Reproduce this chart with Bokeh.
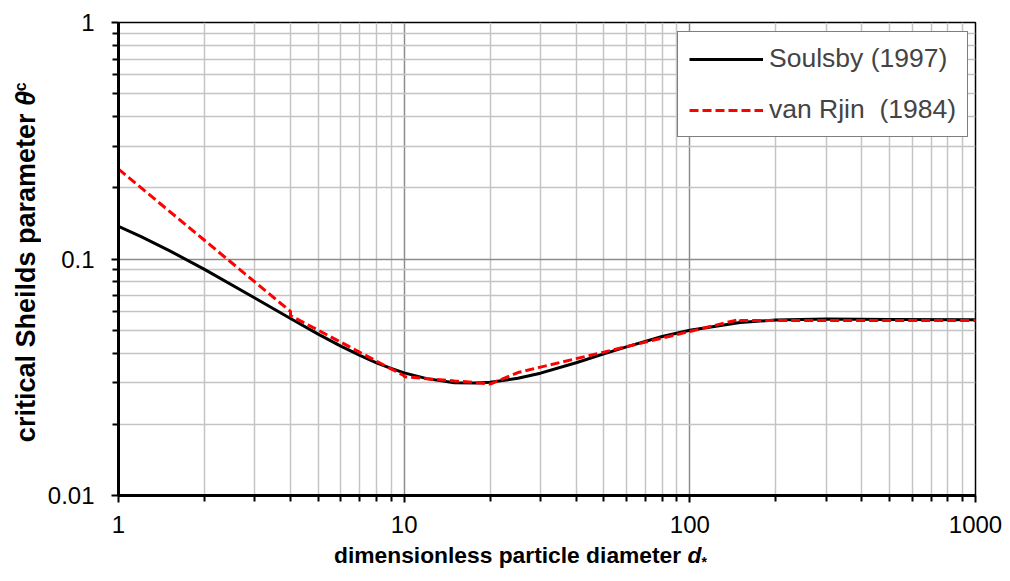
from bokeh.plotting import figure
from bokeh.models import (FixedTicker, CustomJSTickFormatter, Legend,
                          LegendItem, Range1d, Div, GridBox)
from bokeh.embed import file_html
from bokeh.resources import INLINE

# ---- data ----
soulsby_d = [1, 1.2, 1.5, 2, 3, 4, 5, 6, 7, 8, 9, 10, 12, 15, 18, 20, 25, 30,
             40, 50, 60, 80, 100, 150, 200, 300, 500, 1000]
soulsby_theta = [0.1375, 0.1243, 0.1088, 0.0904, 0.0684, 0.0560, 0.0481, 0.0428,
                 0.0391, 0.0364, 0.0345, 0.0330, 0.0312, 0.0300, 0.0299, 0.0301,
                 0.0313, 0.0329, 0.0364, 0.0397, 0.0425, 0.0470, 0.0500, 0.0539,
                 0.0552, 0.0557, 0.0555, 0.0553]

vanrijn_d = [1, 2, 3, 4, 4, 5, 6, 7, 8, 9, 10, 10, 12, 15, 18, 20, 25, 30, 40,
             50, 60, 80, 100, 120, 150, 150, 200, 500, 1000]
vanrijn_theta = [0.24, 0.12, 0.08, 0.06, 0.0576, 0.0500, 0.0445, 0.0403, 0.0370,
                 0.0343, 0.0321, 0.0318, 0.0312, 0.0305, 0.0300, 0.0296, 0.0331,
                 0.0349, 0.0379, 0.0404, 0.0426, 0.0463, 0.0494, 0.0521, 0.0556,
                 0.055, 0.055, 0.055, 0.055]

series_labels = ["Soulsby (1997)", "van Rjin  (1984)"]

x_major = [1, 10, 100, 1000]
x_minor = [m * 10 ** k for k in range(0, 3) for m in range(2, 10)]
y_major = [0.01, 0.1, 1]
y_minor = [round(m * 10.0 ** k, 4) for k in (-2, -1) for m in range(2, 10)]

FONT = "Liberation Sans"

p = figure(width=1010, height=581, x_axis_type="log", y_axis_type="log",
           x_range=Range1d(1, 1000), y_range=Range1d(0.01, 1),
           output_backend="svg", toolbar_location=None,
           min_border_left=118, min_border_right=35,
           min_border_top=22, min_border_bottom=86)
p.background_fill_color = "white"
p.border_fill_color = "white"
p.outline_line_color = "black"
p.outline_line_width = 1.5

xt = FixedTicker(ticks=x_major, minor_ticks=x_minor)
yt = FixedTicker(ticks=y_major, minor_ticks=y_minor)
p.xaxis.ticker = xt
p.yaxis.ticker = yt
p.xgrid.ticker = xt
p.ygrid.ticker = yt
fmt = CustomJSTickFormatter(code="return tick.toString();")
p.xaxis.formatter = fmt
p.yaxis.formatter = fmt

for g in (p.xgrid, p.ygrid):
    g.grid_line_color = "#8c8c8c"
    g.grid_line_width = 1.5
    g.minor_grid_line_color = "#c4c4c4"
    g.minor_grid_line_width = 1.5

for ax in (p.xaxis, p.yaxis):
    ax.axis_line_color = "black"
    ax.axis_line_width = 3
    ax.major_tick_line_color = "black"
    ax.minor_tick_line_color = "black"
    ax.major_tick_line_width = 2
    ax.minor_tick_line_width = 2
    ax.major_tick_in = 0
    ax.minor_tick_in = 0
    ax.major_tick_out = 7
    ax.minor_tick_out = 6
    ax.major_label_text_font = FONT
    ax.major_label_text_font_size = "24px"
    ax.major_label_text_color = "black"
p.yaxis.major_label_standoff = 17
p.xaxis.major_label_standoff = 13

r1 = p.line(soulsby_d, soulsby_theta, line_color="black", line_width=3)
r2 = p.line(vanrijn_d, vanrijn_theta, line_color="#ff0000", line_width=3,
            line_dash="9 4")

legend = Legend(items=[LegendItem(label=series_labels[0], renderers=[r1]),
                       LegendItem(label=series_labels[1], renderers=[r2])],
                location=(559, 358))
legend.border_line_color = "black"
legend.border_line_width = 1.5
legend.background_fill_color = "white"
legend.background_fill_alpha = 1
legend.label_text_font = FONT
legend.label_text_font_size = "26.5px"
legend.glyph_width = 74
legend.glyph_height = 30
legend.label_height = 30
legend.spacing = 20
legend.padding = 11
legend.margin = 0
legend.label_standoff = 6
p.add_layout(legend)

# axis titles with mixed styles (bold / bold italic / subscript) as HTML text,
# laid over the plot in the same grid cell
x_title = Div(
    text=('<div style="font-family:\'Liberation Sans\';font-weight:bold;'
          'font-size:22.8px;line-height:26px;white-space:nowrap;color:black;">'
          'dimensionless particle diameter <i>d</i>'
          '<span style="font-size:14px;position:relative;top:4px;">*</span></div>'),
    margin=(542, 0, 0, 334))
y_title = Div(
    text=('<div style="font-family:\'Liberation Sans\';font-weight:bold;'
          'font-size:27px;line-height:30px;white-space:nowrap;color:black;'
          'writing-mode:vertical-rl;transform:rotate(180deg);">'
          'critical Sheilds parameter <i>θ</i>'
          '<span style="font-size:16px;position:relative;left:5px;">c</span></div>'),
    margin=(82, 0, 0, 11))

layout = GridBox(children=[(p, 0, 0), (x_title, 0, 0), (y_title, 0, 0)])

open("out.html", "w").write(file_html(layout, INLINE))
